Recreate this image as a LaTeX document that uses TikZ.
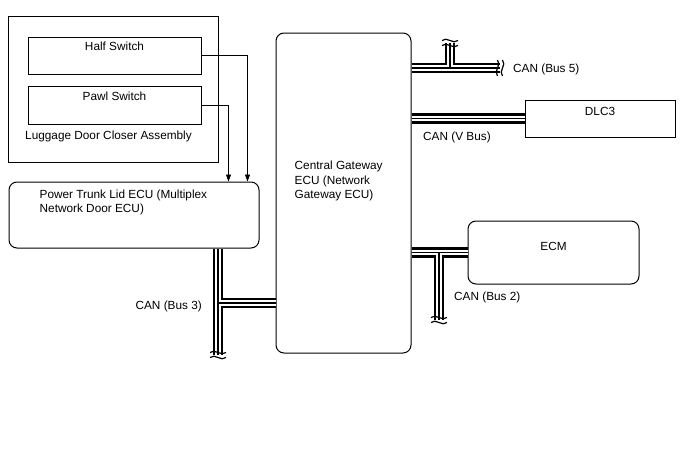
\documentclass[tikz,border=0pt]{standalone}
\usepackage{fontspec}
\setmainfont{Liberation Sans}
\usetikzlibrary{positioning,arrows.meta}

\tikzset{
  brk/.pic={
    \draw[line width=1.2pt] (-8,-2.5) .. controls (-3,-7) and (3,2) .. (8,-2.5);
    \draw[line width=1.2pt] (-8,2.5) .. controls (-3,-2) and (3,7) .. (8,2.5);
  }
}

\begin{document}
\begin{tikzpicture}[
  x=1pt, y=-1pt,
  every node/.style={font=\fontsize{11.8}{14.5}\selectfont},
  box/.style={rectangle, draw, line width=1pt, inner sep=0pt},
  ecu/.style={box, rounded corners=8pt},
  txt/.style={inner sep=0pt, align=left},
  arr/.style={-{Triangle[length=7pt,width=5pt]}, line width=0.8pt}
]
\useasboundingbox (0,0) rectangle (688,463);

% closer assembly
\node[box, minimum width=210, minimum height=146] (assy) at (113,89) {};
\node[box, minimum width=173, minimum height=37,
  label={[txt, anchor=north, yshift=-5]north:Half Switch}] (half) at (114.5,55.5) {};
\node[box, minimum width=173, minimum height=38,
  label={[txt, anchor=north, yshift=-6]north:Pawl Switch}] (pawl) at (114.5,105) {};
\node[txt, anchor=west] (assylbl) at (25,136) {Luggage Door Closer Assembly};

% ECUs
\node[ecu, minimum width=250, minimum height=66,
  label={[txt, anchor=north west, xshift=31, yshift=-8]north west:Power Trunk Lid ECU (Multiplex\\Network Door ECU)}] (ptecu) at (134,215) {};
\node[ecu, minimum width=135, minimum height=320,
  label={[txt, anchor=west, xshift=19, yshift=12]west:Central Gateway\\ECU (Network\\Gateway ECU)}] (cgw) at (343.5,193) {};
\node[box, minimum width=150, minimum height=37,
  label={[txt, anchor=north, yshift=-8]north:DLC3}] (dlc3) at (600,118.5) {};
\node[ecu, minimum width=171, minimum height=63,
  label={[txt, anchor=north, yshift=-22]north:ECM}] (ecm) at (553.5,252.5) {};

% switch lines
\draw[arr] (half.east) -| ([xshift=-12]ptecu.north east);
\draw[arr] (pawl.east) -| ([xshift=-31]ptecu.north east);

% CAN buses
\coordinate (b5end) at (500,68);
\coordinate (b5j) at (450,68);
\coordinate (b5top) at (450,43);
\coordinate (b2j) at (439,253);
\coordinate (b2end) at (439,320);
\coordinate (b3j) at (218,303);
\coordinate (b3end) at (218,355);

\foreach \w/\c in {10.5/black,5.5/white,1.3/black}{
  \draw[line width=\w pt, \c] (cgw.east |- b5end) -- (b5end) (b5j) -- (b5top);
  \draw[line width=\w pt, \c] (cgw.east |- dlc3.west) -- (dlc3.west);
  \draw[line width=\w pt, \c] (cgw.east |- ecm.west) -- (ecm.west) (b2j |- ecm.west) -- (b2end);
  \draw[line width=\w pt, \c] (b3j |- ptecu.south) -- (b3end) (b3j) -- (cgw.west |- b3j);
}

\pic at (b5end) [rotate=90] {brk};
\pic at (b5top) {brk};
\pic at (b2end) {brk};
\pic at (b3end) {brk};

\node[txt, anchor=west] (can5) at (513,69) {CAN (Bus 5)};
\node[txt, anchor=west] (canv) at (423,137) {CAN (V Bus)};
\node[txt, anchor=west] (can2) at (454,297) {CAN (Bus 2)};
\node[txt, anchor=east] (can3) at (202,306) {CAN (Bus 3)};
\end{tikzpicture}
\end{document}
